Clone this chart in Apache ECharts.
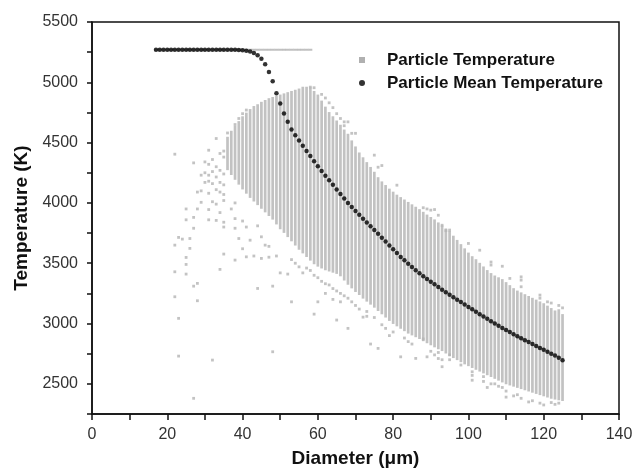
<!DOCTYPE html>
<html>
<head>
<meta charset="utf-8">
<script src="https://cdn.jsdelivr.net/npm/echarts@6/dist/echarts.min.js"></script>
<style>html,body{margin:0;padding:0;background:#fff}#c{width:636px;height:473px}</style>
</head>
<body>
<div id="c"></div>
<script>
// ---- Data ----
const meanStart = 17; // diameter of first mean point (µm), one point per µm
const meanT = [5270,5270,5270,5270,5270,5270,5270,5270,5270,5270,5270,5270,5270,5270,5270,5270,5270,5270,5270,5270,5270,5270,5268,5266,
  5262,5255,5242,5225,5195,5150,5085,5008,4910,4824,4741,4672,4608,4561,4518,4473,4431,4388,4346,4305,4265,4226,4189,4150,4112,4073,4036,4000,
  3967,3934,3901,3869,3837,3806,3775,3745,3712,3680,3648,3616,3584,3552,3524,3496,3469,3442,3417,3393,3370,3347,3325,3303,3281,3260,3239,3218,
  3198,3178,3158,3138,3118,3098,3078,3058,3039,3020,3001,2982,2964,2946,2929,2912,2895,2878,2862,2846,2830,2814,2798,2782,2766,2750,2734,2716,2695];

// dense particle-temperature columns: diameters 36..125 µm
const colStart = 36;
const colHi = [4540,4590,4630,4670,4710,4740,4770,4795,4810,4830,4845,4860,4870,4880,4890,4900,4910,4920,4930,4940,4955,4955,4950,4920,4890,
  4840,4790,4745,4710,4675,4640,4600,4565,4510,4460,4410,4370,4330,4290,4250,4205,4170,4140,4110,4085,4060,4040,4020,4000,3980,3960,3940,3918,
  3895,3875,3855,3830,3805,3780,3760,3720,3685,3650,3615,3580,3550,3525,3495,3465,3435,3410,3390,3375,3360,3335,3310,3285,3265,3250,3235,3220,
  3205,3190,3175,3160,3140,3120,3100,3110,3070];
const colLo = [4280,4240,4200,4160,4120,4085,4050,4020,3990,3960,3930,3900,3870,3830,3790,3760,3725,3690,3655,3620,3590,3560,3530,3500,3480,
  3465,3450,3440,3430,3420,3400,3365,3330,3300,3270,3245,3215,3190,3165,3140,3112,3085,3058,3030,3005,2985,2965,2945,2925,2910,2895,2880,2862,
  2845,2828,2811,2795,2780,2760,2740,2722,2705,2688,2670,2655,2640,2625,2610,2595,2580,2565,2550,2535,2520,2505,2495,2485,2475,2465,2455,2445,
  2435,2425,2415,2405,2395,2385,2378,2372,2366];

// particles at the cap temperature (grey line at the top)
const capDiam = [17,18,19,20,21,22,23,24,25,26,27,28,29,30,31,32,33,34,35,36,37,38,39,40,41,42,43,44,45,46,47,48,49,50,51,52,53,54,55,56,57,58];
const capT = 5270;

// scattered particle temperatures [diameter, T]
const scatterPts = [
  [22,4404],[27,4332],[31,4437],[33,4534],[30,4340],[31,4320],[32,4360],[33,4300],[34,4410],[35,4380],
  [30,4250],[31,4230],[32,4260],[33,4215],[34,4270],[35,4240],[29,4230],
  [30,4170],[31,4180],[32,4160],[34,4170],[35,4150],
  [28,4090],[29,4100],[31,4080],[33,4110],[34,4090],[35,4070],
  [29,4005],[32,4010],[33,3990],[35,4020],[38,4000],
  [25,3950],[28,3950],[31,3945],[34,3920],[37,3950],
  [25,3860],[27,3880],[31,3860],[33,3855],[35,3840],[38,3870],[40,3850],
  [27,3790],[35,3800],[38,3790],[41,3800],[44,3810],
  [23,3714],[26,3705],[39,3705],[42,3691],[45,3719],[46,3650],[24,3700],
  [22,3650],[26,3623],[40,3620],[47,3640],
  [25,3548],[35,3576],[38,3526],[41,3553],[43,3560],[45,3540],[47,3550],[49,3560],
  [25,3490],[34,3449],[22,3429],[25,3410],[50,3420],[52,3410],
  [28,3333],[27,3310],[44,3291],[48,3310],
  [22,3222],[28,3189],[53,3180],[60,3180],[59,3078],[65,3029],[68,2960],
  [23,3043],[23,2730],[32,2697],[27,2380],[48,2766],
  [57,3460],[58,3440],[59,3400],[60,3380],[61,3350],[62,3330],[63,3320],[64,3290],[65,3270],[66,3250],[67,3230],[68,3210],[69,3180],[70,3150],[71,3120],
  [62,3250],[64,3200],[66,3180],[56,3420],[55,3470],[54,3500],[53,3530],
  [73,3100],[75,3050],[77,2990],[78,2960],[80,2930],[83,2880],[84,2850],[79,2900],
  [72,3053],[73,3060],[74,2830],[76,2794],[82,2724],[86,2711],[89,2724],[85,2830],[88,2872],
  [90,2770],[91,2740],[92,2710],[92,2760],[93,2642],[93,2700],[95,2700],[95,2740],[98,2656],
  [101,2600],[101,2570],[101,2530],[104,2520],[105,2470],[104,2560],[107,2500],[109,2470],[110,2440],[110,2390],
  [112,2400],[113,2410],[116,2350],[117,2360],[119,2340],[120,2325],[123,2330],[124,2340],[122,2345],[114,2380],[106,2500],[108,2480],
  [67,4672],[68,4672],[67,4640],[69,4577],[70,4577],[75,4396],[76,4296],[77,4310],[81,4147],[88,3960],[89,3950],[90,3940],[91,3945],
  [92,3898],[93,3815],[94,3770],[95,3775],[100,3664],[103,3608],[106,3510],[106,3485],[109,3475],[111,3374],[114,3387],[114,3360],[114,3305],
  [119,3236],[119,3210],[121,3180],[122,3170],[124,3150],[125,3130],[58,4960],[59,4955],[61,4900],[62,4870],[63,4830],[64,4790],[65,4740],[66,4700],
  [35,4430],[36,4580],[38,4650],[40,4740],[41,4770],[39,4700]
];

// axis ticks
const xMin = 0, xMax = 140, xStep = 10, xLabelStep = 20;
const yMin = 2250, yMax = 5500, yStep = 250, yLabelStep = 500;

// ---- Build chart ----
const GREY = '#c2c2c2';
const FONT = 'Liberation Sans, Arial, sans-serif';
const colData = colHi.map((h, i) => [colStart + i, colLo[i], h]);
const meanData = meanT.map((t, i) => [meanStart + i, t]);
const capData = capDiam.map(d => [d, capT]);

const chart = echarts.init(document.getElementById('c'), null, {renderer: 'canvas'});
chart.setOption({
  animation: false,
  backgroundColor: '#fff',
  grid: {left: 92, right: 17, top: 22, bottom: 59, containLabel: false, outerBoundsMode: 'none',
    show: true, borderColor: '#111', borderWidth: 1.5, backgroundColor: 'transparent'},
  legend: {
    orient: 'vertical', left: 354, top: 45,
    itemWidth: 6, itemHeight: 6, itemGap: 3,
    textStyle: {fontFamily: FONT, fontWeight: 'bold', fontSize: 17, color: '#111', lineHeight: 20, padding: [0, 0, 0, 17]},
    data: [
      {name: 'Particle Temperature', icon: 'rect', itemStyle: {color: '#b0b0b0'}},
      {name: 'Particle Mean Temperature', icon: 'circle', itemStyle: {color: '#000'}}
    ]
  },
  xAxis: {
    type: 'value', min: xMin, max: xMax, interval: xStep,
    name: 'Diameter (\u03bcm)', nameLocation: 'middle', nameGap: 35,
    nameTextStyle: {fontFamily: FONT, fontWeight: 'bold', fontSize: 19, color: '#111'},
    axisLine: {show: true, onZero: false, lineStyle: {color: '#111', width: 1.5}},
    axisTick: {show: true, inside: false, length: 6, lineStyle: {color: '#111', width: 1.5}},
    axisLabel: {margin: 13, fontFamily: FONT, fontSize: 16, color: '#333',
      formatter: v => (v % xLabelStep === 0 ? String(v) : '')},
    splitLine: {show: false}
  },
  yAxis: {
    type: 'value', min: yMin, max: yMax, interval: yStep,
    name: 'Temperature (K)', nameLocation: 'middle', nameGap: 60,
    nameTextStyle: {fontFamily: FONT, fontWeight: 'bold', fontSize: 19, color: '#111'},
    axisLine: {show: true, onZero: false, lineStyle: {color: '#111', width: 1.5}},
    axisTick: {show: true, inside: false, length: 5, lineStyle: {color: '#111', width: 1.5}},
    axisLabel: {margin: 14, fontFamily: FONT, fontSize: 16, color: '#333',
      formatter: v => (v % yLabelStep === 0 ? String(v) : '')},
    splitLine: {show: false}
  },
  series: [
    {
      name: 'Particle Temperature', type: 'custom', data: colData,
      encode: {x: 0, y: [1, 2]},
      itemStyle: {color: '#b0b0b0'},
      renderItem: function (params, api) {
        const x = api.value(0), lo = api.value(1), hi = api.value(2);
        const p1 = api.coord([x, hi]);
        const p2 = api.coord([x, lo]);
        return {type: 'rect', shape: {x: p1[0] - 1.35, y: p1[1] - 1, width: 2.7, height: p2[1] - p1[1] + 2},
          style: {fill: GREY}};
      },
      z: 2
    },
    {
      name: 'Particle Temperature', type: 'scatter', data: capData,
      symbol: 'rect', symbolSize: [4, 2], itemStyle: {color: '#b0b0b0'}, z: 2
    },
    {
      name: 'Particle Temperature', type: 'scatter', data: scatterPts,
      symbol: 'rect', symbolSize: 2.8, itemStyle: {color: '#b4b4b4'}, z: 2
    },
    {
      name: 'Particle Mean Temperature', type: 'scatter', data: meanData,
      symbol: 'circle', symbolSize: 4.5, itemStyle: {color: '#000'}, z: 5
    }
  ]
});
</script>
</body>
</html>
